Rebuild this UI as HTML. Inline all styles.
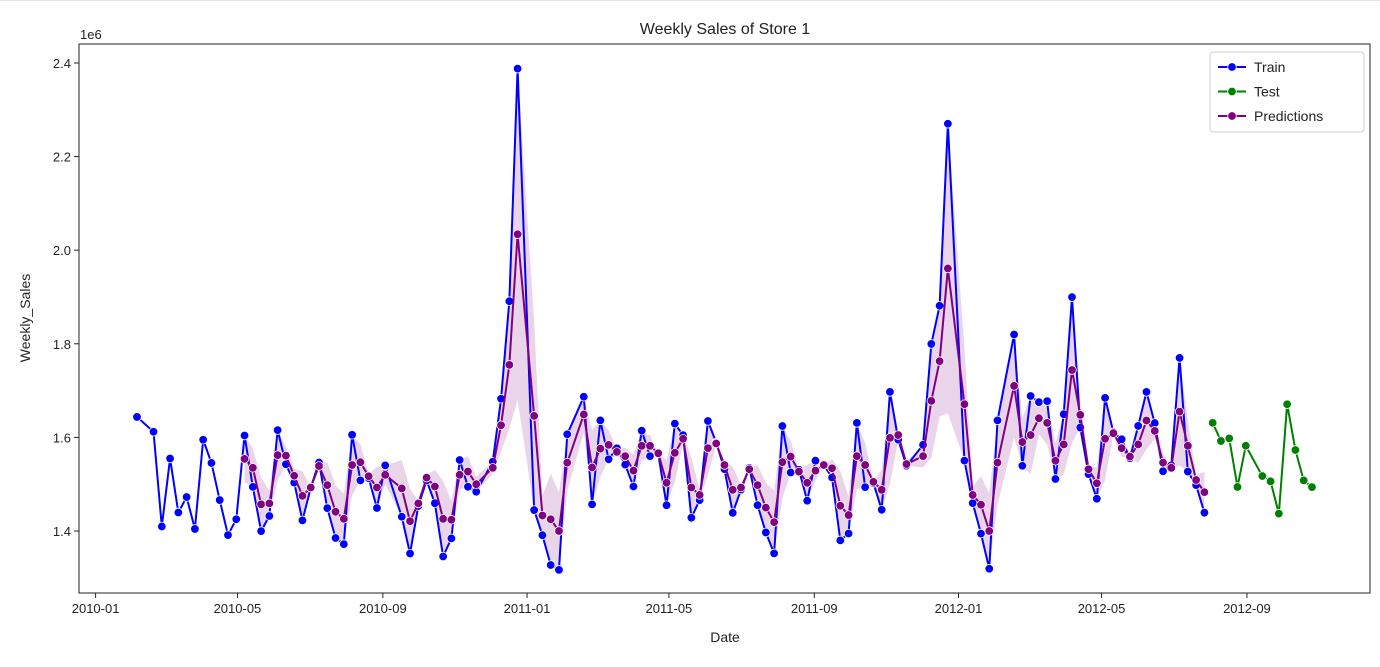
<!DOCTYPE html>
<html><head><meta charset="utf-8"><style>
html,body{margin:0;padding:0;background:#fff;}
svg text{font-family:"Liberation Sans","DejaVu Sans",sans-serif;fill:#222;}
</style></head><body>
<svg id="chart" width="1380" height="662" viewBox="0 0 1380 662" xmlns="http://www.w3.org/2000/svg">
<line x1="0" y1="0.5" x2="1380" y2="0.5" stroke="#e6e6e6"/>
<text x="725" y="34" font-size="16" text-anchor="middle">Weekly Sales of Store 1</text>
<text x="80" y="39" font-size="13">1e6</text>
<text x="725" y="642" font-size="14" text-anchor="middle">Date</text>
<text x="30" y="318" font-size="14" text-anchor="middle" transform="rotate(-90 30 318)">Weekly_Sales</text>
<g id="plot"></g>
</svg>
<script>
const trainDates = ["2010-02-05","2010-02-19","2010-02-26","2010-03-05","2010-03-12","2010-03-19","2010-03-26","2010-04-02","2010-04-09","2010-04-16","2010-04-23","2010-04-30","2010-05-07","2010-05-14","2010-05-21","2010-05-28","2010-06-04","2010-06-11","2010-06-18","2010-06-25","2010-07-02","2010-07-09","2010-07-16","2010-07-23","2010-07-30","2010-08-06","2010-08-13","2010-08-20","2010-08-27","2010-09-03","2010-09-17","2010-09-24","2010-10-01","2010-10-08","2010-10-15","2010-10-22","2010-10-29","2010-11-05","2010-11-12","2010-11-19","2010-12-03","2010-12-10","2010-12-17","2010-12-24","2011-01-07","2011-01-14","2011-01-21","2011-01-28","2011-02-04","2011-02-18","2011-02-25","2011-03-04","2011-03-11","2011-03-18","2011-03-25","2011-04-01","2011-04-08","2011-04-15","2011-04-22","2011-04-29","2011-05-06","2011-05-13","2011-05-20","2011-05-27","2011-06-03","2011-06-10","2011-06-17","2011-06-24","2011-07-01","2011-07-08","2011-07-15","2011-07-22","2011-07-29","2011-08-05","2011-08-12","2011-08-19","2011-08-26","2011-09-02","2011-09-09","2011-09-16","2011-09-23","2011-09-30","2011-10-07","2011-10-14","2011-10-21","2011-10-28","2011-11-04","2011-11-11","2011-11-18","2011-12-02","2011-12-09","2011-12-16","2011-12-23","2012-01-06","2012-01-13","2012-01-20","2012-01-27","2012-02-03","2012-02-17","2012-02-24","2012-03-02","2012-03-09","2012-03-16","2012-03-23","2012-03-30","2012-04-06","2012-04-13","2012-04-20","2012-04-27","2012-05-04","2012-05-11","2012-05-18","2012-05-25","2012-06-01","2012-06-08","2012-06-15","2012-06-22","2012-06-29","2012-07-06","2012-07-13","2012-07-20","2012-07-27"];
const trainSales = [1.6437,1.6120,1.4097,1.5548,1.4395,1.4725,1.4044,1.5950,1.5454,1.4661,1.3913,1.4251,1.6040,1.4943,1.3997,1.4321,1.6155,1.5426,1.5033,1.4227,1.4924,1.5464,1.4489,1.3851,1.3720,1.6055,1.5082,1.5131,1.4491,1.5402,1.4304,1.3518,1.4533,1.5082,1.4594,1.3455,1.3842,1.5517,1.4945,1.4838,1.5480,1.6826,1.8910,2.3880,1.4447,1.3910,1.3274,1.3169,1.6066,1.6868,1.4568,1.6363,1.5532,1.5768,1.5419,1.4951,1.6143,1.5599,1.5648,1.4551,1.6294,1.6048,1.4282,1.4660,1.6351,1.5889,1.5321,1.4388,1.4885,1.5348,1.4551,1.3969,1.3522,1.6244,1.5251,1.5308,1.4647,1.5502,1.5405,1.5143,1.3800,1.3946,1.6310,1.4937,1.5026,1.4453,1.6972,1.5949,1.5395,1.5841,1.7997,1.8812,2.2702,1.5504,1.4596,1.3944,1.3193,1.6363,1.8199,1.5394,1.6884,1.6754,1.6775,1.5111,1.6496,1.8997,1.6210,1.5216,1.4689,1.6845,1.6111,1.5959,1.5554,1.6245,1.6972,1.6306,1.5278,1.5404,1.7699,1.5270,1.4980,1.4391];
const predSales = [null,null,null,null,null,null,null,null,null,null,null,null,
1.554,1.535,1.457,1.459,1.562,1.561,1.518,1.475,1.493,1.539,1.498,1.441,1.426,1.541,1.547,1.517,1.493,1.520,
1.491,1.421,1.459,1.514,1.495,1.426,1.424,1.520,1.527,1.500,
1.535,1.626,1.755,2.034,
1.646,1.433,1.425,1.400,1.546,
1.649,1.536,1.576,1.584,1.569,1.560,1.529,1.582,1.582,1.566,
1.503,1.567,1.597,1.493,1.477,1.577,1.587,1.541,1.488,1.493,1.532,1.498,1.450,1.419,1.547,1.559,1.527,1.503,1.529,1.541,1.534,1.454,1.434,1.560,1.541,1.505,1.488,1.599,1.605,1.543,
1.560,1.678,1.763,1.961,
1.671,1.477,1.456,1.400,1.546,
1.710,1.590,1.605,1.641,1.631,1.550,
1.585,1.744,1.648,1.532,1.502,1.597,1.609,1.577,1.559,1.585,1.636,1.614,1.546,1.535,1.655,1.582,1.509,1.483];
const testDates = ["2012-08-03","2012-08-10","2012-08-17","2012-08-24","2012-08-31","2012-09-14","2012-09-21","2012-09-28","2012-10-05","2012-10-12","2012-10-19","2012-10-26"];
const testSales = [1.6311,1.5924,1.5979,1.4941,1.5821,1.5174,1.5061,1.4371,1.6708,1.5731,1.5081,1.4937];
const yTicks = [1.4,1.6,1.8,2.0,2.2,2.4];
const xTicks = ["2010-01","2010-05","2010-09","2011-01","2011-05","2011-09","2012-01","2012-05","2012-09"];

const NS="http://www.w3.org/2000/svg";
const L=79,R=1370,T=44,B=593;
const origin=Date.UTC(2010,0,1);
function day(s){const p=s.split("-");return (Date.UTC(+p[0],+p[1]-1,p[2]?+p[2]:1)-origin)/86400000;}
const d0=-14.04,d1=1078.1;
function X(s){return L+(day(s)-d0)/(d1-d0)*(R-L);}
const v0=1.2675,v1=2.4406;
function Y(v){return B-(v-v0)/(v1-v0)*(B-T);}
const g=document.getElementById("plot");
function mk(tag,attrs,parent){const e=document.createElementNS(NS,tag);for(const k in attrs)e.setAttribute(k,attrs[k]);(parent||g).appendChild(e);return e;}

const frame=mk("rect",{x:L,y:T,width:R-L,height:B-T,fill:"none",stroke:"#222","stroke-width":1});


yTicks.forEach(v=>{const y=Y(v);
 const t=mk("line",{x1:L-5,y1:y,x2:L,y2:y,stroke:"#222"});
 
 
 const tx=mk("text",{x:L-8,y:y+5,"font-size":13,"text-anchor":"end"});tx.textContent=v.toFixed(1);
 
 
});
xTicks.forEach(s=>{const x=X(s);
 const t=mk("line",{x1:x,y1:B,x2:x,y2:B+5,stroke:"#222"});
 
 
 const tx=mk("text",{x:x,y:B+20,"font-size":13,"text-anchor":"middle"});tx.textContent=s;
 
 
});
let up=[],lo=[];
trainDates.forEach((d,i)=>{const p=predSales[i];if(p==null)return;const w=Math.abs(trainSales[i]-p);up.push(X(d)+","+Y(p+w));lo.unshift(X(d)+","+Y(p-w));});
const band=mk("polygon",{points:up.concat(lo).join(" "),fill:"purple","fill-opacity":0.17,stroke:"none"});



function series(dates,vals,color,name){
 const pts=[];dates.forEach((d,i)=>{if(vals[i]!=null)pts.push([X(d),Y(vals[i])]);});
 const pl=mk("polyline",{points:pts.map(p=>p.join(",")).join(" "),fill:"none",stroke:color,"stroke-width":2,"stroke-linejoin":"round"});
 
 
 pts.forEach(p=>{const c=mk("circle",{cx:p[0],cy:p[1],r:4.3,fill:color,stroke:"#fff","stroke-width":0.8});
  
  });
}
series(trainDates,trainSales,"#0000ff","train");
series(testDates,testSales,"#008000","test");
series(trainDates,predSales,"purple","predictions");

const lg=mk("g",{});


mk("rect",{x:1210,y:52,width:154,height:80,rx:3,fill:"#fff",stroke:"#d0d0d0"},lg);
[["Train","#0000ff"],["Test","#008000"],["Predictions","purple"]].forEach((e,i)=>{
 const y=67+i*24.5;
 const eg=mk("g",{},lg);
 
 
 mk("line",{x1:1218,y1:y,x2:1246,y2:y,stroke:e[1],"stroke-width":2},eg);
 mk("circle",{cx:1232,cy:y,r:4.3,fill:e[1],stroke:"#fff","stroke-width":0.8},eg);
 const t=mk("text",{x:1254,y:y+5,"font-size":14},eg);t.textContent=e[0];
});
</script>
</body></html>
